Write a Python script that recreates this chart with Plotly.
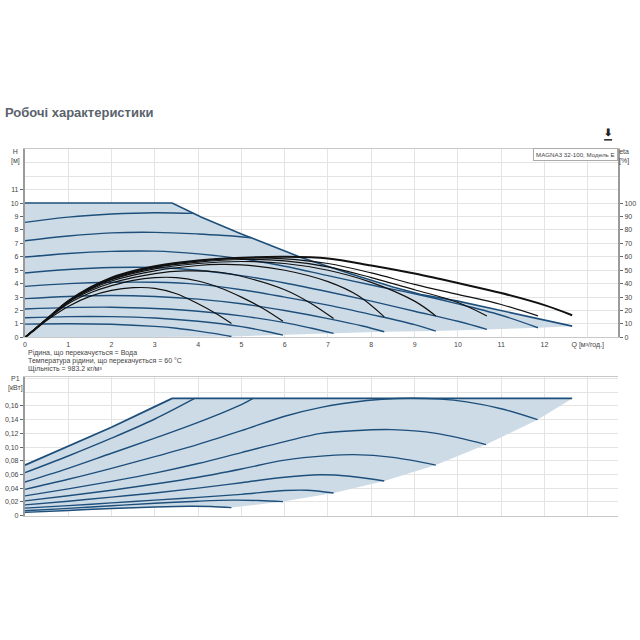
import plotly.graph_objects as go

# ---------------- data ----------------
Q_TICKS = list(range(0, 14))
Q_LABELS = [str(i) for i in range(0, 13)] + ["Q [м³/год.]"]
H_TICKS = list(range(0, 12))
ETA_TICKS = list(range(0, 101, 10))
P_TICKS = [0, 0.02, 0.04, 0.06, 0.08, 0.10, 0.12, 0.14, 0.16]
P_LABELS = ["0", "0,02", "0,04", "0,06", "0,08", "0,10", "0,12", "0,14", "0,16"]

# H envelope (max curve) and lower boundary
env_q = [0, 3.4, 4.08, 5.0, 6.38, 7.5, 8.5, 9.15, 10, 11, 12, 12.64]
env_h = [10, 10, 8.95, 7.7, 5.95, 4.75, 3.75, 3.2, 2.7, 2.0, 1.28, 0.84]
low_q = [0, 2, 4.77, 5.96, 7.13, 8.3, 9.49, 10.67, 11.85, 12.64]
low_h = [0, 0.02, 0.07, 0.17, 0.3, 0.42, 0.47, 0.6, 0.72, 0.84]

# H speed curves
h9_q = [0, 1, 2, 3, 3.9]
h9_h = [8.56, 8.95, 9.18, 9.28, 9.23]
h8_q = [0, 1, 2, 3, 4, 4.6, 5.23]
h8_h = [7.19, 7.55, 7.78, 7.82, 7.7, 7.58, 7.42]
h7_q = [0, 1, 2, 3, 4, 5, 6, 7, 8, 9, 10, 11, 11.85]
h7_h = [5.98, 6.25, 6.4, 6.42, 6.22, 5.85, 5.3, 4.6, 3.9, 3.25, 2.5, 1.65, 0.72]
h6_q = [0, 1, 2, 3, 4, 5, 6, 7, 8, 9, 10, 10.67]
h6_h = [4.79, 5.05, 5.2, 5.2, 5.0, 4.6, 4.05, 3.4, 2.7, 1.95, 1.2, 0.6]
h5_q = [0, 1, 2, 3, 4, 5, 6, 7, 8, 9, 9.49]
h5_h = [3.8, 4.0, 4.1, 4.1, 3.95, 3.55, 3.0, 2.4, 1.7, 0.95, 0.47]
h4_q = [0, 1, 2, 3, 4, 5, 6, 7, 7.8, 8.3]
h4_h = [2.89, 3.05, 3.12, 3.05, 2.85, 2.5, 2.0, 1.4, 0.85, 0.42]
h3_q = [0, 1, 2, 3, 4, 5, 6, 6.6, 7.13]
h3_h = [2.12, 2.22, 2.25, 2.15, 1.95, 1.6, 1.1, 0.7, 0.3]
h2_q = [0, 1, 2, 3, 4, 5, 5.5, 5.96]
h2_h = [1.46, 1.55, 1.55, 1.45, 1.2, 0.8, 0.5, 0.17]
h1_q = [0, 1, 2, 3, 3.5, 4, 4.4, 4.77]
h1_h = [0.99, 1.02, 0.98, 0.82, 0.68, 0.47, 0.28, 0.07]

# efficiency curves (eta %)
e8_q = [0, 0.25, 0.5, 1, 1.5, 2, 2.5, 3, 4, 5, 6, 7, 8, 9, 10, 11, 12, 12.64]
e8_e = [0, 6.5, 13.5, 27, 37, 44.5, 49.5, 53, 57.3, 59.3, 60, 58.8, 53.5, 47.5, 40.5, 33, 24, 16.5]
e7_q = [0, 0.5, 1, 1.5, 2, 3, 4, 5, 6, 7, 8, 9, 10, 11, 11.85]
e7_e = [0, 13.5, 27, 37, 44, 52.5, 57, 59, 58.5, 55, 48, 39.5, 32, 24.5, 16]
e6_q = [0, 0.5, 1, 1.5, 2, 3, 4, 5, 6, 7, 8, 9, 10, 10.67]
e6_e = [0, 13.5, 27, 36.5, 43.5, 52, 56, 58, 57, 52.5, 44.5, 35.5, 26, 16]
e5_q = [0, 0.5, 1, 1.5, 2, 3, 4, 5, 6, 7, 8, 9, 9.49]
e5_e = [0, 13.5, 26.5, 36, 43, 51, 55, 56.5, 55, 50, 41, 27, 16]
e4_q = [0, 0.5, 1, 1.5, 2, 3, 4, 4.5, 5, 6, 7, 7.7, 8.3]
e4_e = [0, 13.5, 26.5, 35.5, 42, 49.5, 53.5, 54.3, 54, 50, 41.5, 31, 15.3]
e3_q = [0, 0.5, 1, 1.5, 2, 3, 3.7, 4.5, 5, 6, 6.6, 7.13]
e3_e = [0, 13.5, 26, 34.5, 40.5, 47.5, 49.5, 48.5, 45.5, 35.5, 25.5, 14]
e2_q = [0, 0.5, 1, 1.5, 2, 2.5, 3, 3.5, 4, 4.5, 5, 5.5, 5.96]
e2_e = [0, 13, 25, 33, 38.5, 42.5, 44.5, 44.5, 42, 37, 30, 21.5, 12]
e1_q = [0, 0.5, 1, 1.5, 2, 2.5, 3, 3.5, 4, 4.4, 4.77]
e1_e = [0, 12.5, 23, 30.5, 35, 37, 36.5, 32.5, 25, 18, 10.4]

# power P1 (kW)
penv_q = [0, 1, 2, 3, 3.4, 12.64]
penv_p = [0.0737, 0.101, 0.129, 0.159, 0.171, 0.171]
plow_q = [0, 1, 2, 3, 3.8, 4.3, 4.77, 5.96, 7.13, 8.3, 9.49, 10.65, 11.84, 12.64]
plow_p = [0.0046, 0.0075, 0.0103, 0.0125, 0.0135, 0.0132, 0.0116, 0.0204, 0.033, 0.0505,
          0.0737, 0.1037, 0.14, 0.171]
p9_q = [0, 1, 2, 3, 3.92]
p9_p = [0.0626, 0.087, 0.113, 0.141, 0.171]
p8_q = [0, 1, 2, 3, 4, 5, 5.27]
p8_p = [0.049, 0.069, 0.091, 0.113, 0.136, 0.162, 0.171]
p7_q = [0, 1, 2, 3, 4, 5, 6, 6.84, 7.9, 8.6, 9.6, 10.2, 11, 11.84]
p7_p = [0.0383, 0.053, 0.069, 0.086, 0.104, 0.124, 0.145, 0.158, 0.168, 0.171, 0.17, 0.166, 0.156, 0.14]
p6_q = [0, 1, 2, 3, 4, 5, 6, 6.84, 7.5, 8.46, 9.5, 10.65]
p6_p = [0.0287, 0.039, 0.05, 0.062, 0.076, 0.092, 0.108, 0.12, 0.1235, 0.1255, 0.12, 0.1037]
p5_q = [0, 1, 2, 3, 4, 5, 6, 7, 7.6, 8.5, 9.49]
p5_p = [0.0215, 0.029, 0.037, 0.046, 0.056, 0.068, 0.081, 0.0875, 0.089, 0.085, 0.0737]
p4_q = [0, 1, 2, 3, 4, 5, 6, 6.8, 7.5, 8.3]
p4_p = [0.0157, 0.021, 0.027, 0.033, 0.04, 0.048, 0.056, 0.0595, 0.0575, 0.0505]
p3_q = [0, 1, 2, 3, 4, 5, 6, 6.5, 7.13]
p3_p = [0.0108, 0.0145, 0.0185, 0.0225, 0.0265, 0.031, 0.0365, 0.037, 0.033]
p2_q = [0, 1, 2, 3, 4, 4.8, 5.4, 5.96]
p2_p = [0.007, 0.0105, 0.0143, 0.018, 0.021, 0.0225, 0.022, 0.0204]
p1_q = [0, 1, 2, 3, 3.8, 4.3, 4.77]
p1_p = [0.0046, 0.0075, 0.0103, 0.0125, 0.0135, 0.0132, 0.0116]

# ---------------- figure ----------------
W = H = 640
LINE = "#1e4f7b"
FILL = "rgb(205,219,231)"
GRID = "#e4e4e4"
AXIS = "#9a9a9a"
TXT = "#444"
FONT = "Liberation Sans, Arial, sans-serif"

def px_x(p):
    return p / W

def px_y(p):
    return 1 - p / H

XD = [px_x(23), px_x(618)]
TOP = [px_y(339), px_y(150)]
BOT = [px_y(518), px_y(379)]

fig = go.Figure()

# top fill
fig.add_trace(go.Scatter(x=env_q + low_q[::-1], y=env_h + low_h[::-1], fill="toself",
                         fillcolor=FILL, line=dict(width=0), mode="lines",
                         xaxis="x", yaxis="y", hoverinfo="skip"))
for q, h in [(h9_q, h9_h), (h8_q, h8_h), (h7_q, h7_h), (h6_q, h6_h), (h5_q, h5_h),
             (h4_q, h4_h), (h3_q, h3_h), (h2_q, h2_h), (h1_q, h1_h)]:
    fig.add_trace(go.Scatter(x=q, y=h, mode="lines", line=dict(color=LINE, width=1.4, shape="spline"),
                             xaxis="x", yaxis="y"))
fig.add_trace(go.Scatter(x=env_q, y=env_h, mode="lines", line=dict(color=LINE, width=1.6),
                         xaxis="x", yaxis="y"))
for q, e, w in [(e1_q, e1_e, 1.2), (e2_q, e2_e, 1.2), (e3_q, e3_e, 1.2), (e4_q, e4_e, 1.2),
                (e5_q, e5_e, 1.2), (e6_q, e6_e, 1.2), (e7_q, e7_e, 1.2), (e8_q, e8_e, 2.0)]:
    fig.add_trace(go.Scatter(x=q, y=e, mode="lines", line=dict(color="#111", width=w, shape="spline"),
                             xaxis="x", yaxis="y2"))

# bottom fill
fig.add_trace(go.Scatter(x=penv_q + plow_q[::-1], y=penv_p + plow_p[::-1], fill="toself",
                         fillcolor=FILL, line=dict(width=0), mode="lines",
                         xaxis="x2", yaxis="y3", hoverinfo="skip"))
for q, p in [(p9_q, p9_p), (p8_q, p8_p), (p7_q, p7_p), (p6_q, p6_p), (p5_q, p5_p),
             (p4_q, p4_p), (p3_q, p3_p), (p2_q, p2_p), (p1_q, p1_p)]:
    fig.add_trace(go.Scatter(x=q, y=p, mode="lines", line=dict(color=LINE, width=1.4, shape="spline"),
                             xaxis="x2", yaxis="y3"))
fig.add_trace(go.Scatter(x=penv_q, y=penv_p, mode="lines", line=dict(color=LINE, width=1.8),
                         xaxis="x2", yaxis="y3"))

tickfont = dict(size=7, color=TXT, family=FONT)
fig.update_layout(
    width=W, height=H, margin=dict(l=0, r=0, t=0, b=0),
    paper_bgcolor="white", plot_bgcolor="white", showlegend=False,
    font=dict(family=FONT, color=TXT),
    xaxis=dict(domain=XD, range=[0, 13.7], anchor="y", tickmode="array", tickvals=Q_TICKS,
               ticktext=Q_LABELS, tickfont=tickfont, showgrid=True, gridcolor=GRID,
               showline=True, linecolor="#c8c8c8", mirror=True, ticks="", zeroline=False),
    yaxis=dict(domain=TOP, range=[0, 14], anchor="x", tickmode="array", tickvals=H_TICKS,
               tickfont=tickfont, showgrid=True, gridcolor=GRID, showline=True, linecolor=AXIS,
               linewidth=2, ticks="outside", ticklen=3, tickcolor="#666", zeroline=False,
               minor=dict(dtick=1, showgrid=True, gridcolor=GRID)),
    yaxis2=dict(range=[0, 140], overlaying="y", side="right", anchor="x", tickmode="array",
                tickvals=ETA_TICKS, tickfont=tickfont, showgrid=False, showline=True,
                linecolor=AXIS, linewidth=2, ticks="outside", ticklen=3, tickcolor="#666",
                zeroline=False),
    xaxis2=dict(domain=XD, range=[0, 13.7], anchor="y3", tickmode="array", tickvals=Q_TICKS,
                showticklabels=False, showgrid=True, gridcolor=GRID, showline=True,
                linecolor="#c8c8c8", mirror=True, ticks="", zeroline=False),
    yaxis3=dict(domain=BOT, range=[0, 0.202], anchor="x2", tickmode="array", tickvals=P_TICKS,
                ticktext=P_LABELS, tickfont=tickfont, showgrid=True, gridcolor=GRID,
                showline=True, linecolor=AXIS, linewidth=2, ticks="outside", ticklen=3,
                tickcolor="#666", zeroline=False,
                minor=dict(dtick=0.02, showgrid=True, gridcolor=GRID)),
)

def ann(text, x, y, size=7, xanchor="center", yanchor="middle", **kw):
    fig.add_annotation(text=text, x=px_x(x), y=px_y(y), xref="paper", yref="paper",
                       showarrow=False, xanchor=xanchor, yanchor=yanchor,
                       font=dict(size=size, color=kw.pop("color", TXT), family=FONT), **kw)

ann("<b>Робочі характеристики</b>", 1, 113, size=13, xanchor="left", color="#5a626c")
ann("H<br>[м]", 14, 157, size=7)
ann("eta<br>[%]", 624, 157, size=7)
ann("P1<br>[кВт]", 14, 385, size=7)
ann("MAGNA3 32-100, Модель E", 575, 155, size=6.2, bordercolor="#aaa", borderwidth=1,
    borderpad=2, bgcolor="white")
ann("Рідина, що перекачується = Вода", 24, 355, xanchor="left")
ann("Температура рідини, що перекачується = 60 °C", 24, 363, xanchor="left")
ann("Щільність = 983.2 кг/м³", 24, 371, xanchor="left")
ann("<b>⬇</b>", 608, 133, size=10, color="#222")
fig.add_shape(type="line", xref="paper", yref="paper", x0=px_x(604), x1=px_x(612),
              y0=px_y(140.5), y1=px_y(140.5), line=dict(color="#222", width=1.5))

fig.write_html("out.html")
